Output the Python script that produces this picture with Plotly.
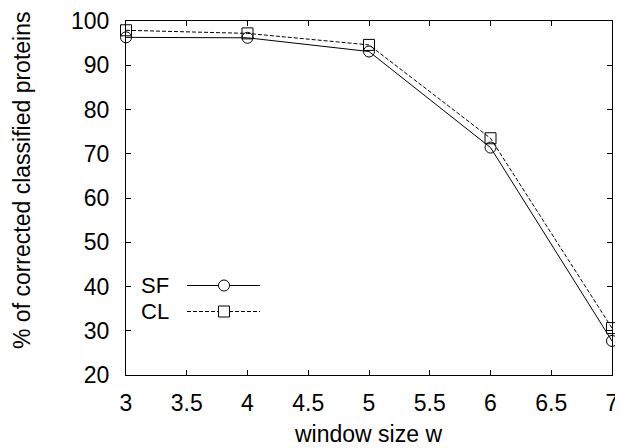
import plotly.graph_objects as go

window = [3, 4, 5, 6, 7]
sf = [96.3, 96.2, 93.1, 71.4, 27.7]
cl = [97.9, 97.2, 94.6, 73.5, 30.6]
x_ticks = [3, 3.5, 4, 4.5, 5, 5.5, 6, 6.5, 7]
y_ticks = [20, 30, 40, 50, 60, 70, 80, 90, 100]

FONT = "Liberation Sans, Arial, sans-serif"
OFF = 8  # default page body margin
W, H = 623 - OFF, 448 - OFF
PL, PR, PT, PB = 126, 612, 21, 375          # plot box in page pixels
ML, MT = PL - OFF, PT - OFF
MR, MB = W - ML - (PR - PL), H - MT - (PB - PT)
PW, PH = PR - PL, PB - PT

fig = go.Figure()
fig.add_trace(go.Scatter(x=window, y=sf, mode="lines+markers", name="SF",
                         line=dict(color="black", width=1),
                         marker=dict(symbol="circle-open", size=11, color="black", line=dict(width=1)),
                         showlegend=False, cliponaxis=False))
fig.add_trace(go.Scatter(x=window, y=cl, mode="lines+markers", name="CL",
                         line=dict(color="black", width=1, dash="4px,2px"),
                         marker=dict(symbol="square-open", size=11, color="black", line=dict(width=1)),
                         showlegend=False, cliponaxis=False))

def px2paper(px, py):
    return (px - PL) / PW, (PB - py) / PH

# manual legend (text left, sample right)
legend = [("SF", 285.5, "solid", "circle"), ("CL", 311.5, "4px,2px", "rect")]
for label, py, dash, shp in legend:
    xa, ya = px2paper(187, py)
    xb, _ = px2paper(260, py)
    xm, _ = px2paper(224, py)
    fig.add_shape(type="line", xref="paper", yref="paper", x0=xa, x1=xb, y0=ya, y1=ya,
                  line=dict(color="black", width=1, dash=dash))
    fig.add_shape(type=shp, xref="paper", yref="paper", xsizemode="pixel", ysizemode="pixel",
                  xanchor=xm, yanchor=ya, x0=-5.5, x1=5.5, y0=-5.5, y1=5.5,
                  line=dict(color="black", width=1), fillcolor="white")
    xt, _ = px2paper(139, py)
    fig.add_annotation(text=label, xref="paper", yref="paper", x=xt, y=ya,
                       xanchor="left", yanchor="middle", showarrow=False,
                       font=dict(family=FONT, size=22, color="black"))

# axis titles
xx, xy = px2paper(368, 434)
fig.add_annotation(text="window size w", xref="paper", yref="paper", x=xx, y=xy,
                   xanchor="center", yanchor="middle", showarrow=False,
                   font=dict(family=FONT, size=23, color="black"))
yx, yy = px2paper(22, 180)
fig.add_annotation(text="% of corrected classified proteins", xref="paper", yref="paper", x=yx, y=yy,
                   xanchor="center", yanchor="middle", showarrow=False, textangle=-90,
                   font=dict(family=FONT, size=23, color="black"))

axis_common = dict(showgrid=False, zeroline=False, showline=True, linecolor="black", linewidth=1,
                   mirror="ticks", ticks="inside", ticklen=5, tickcolor="black", tickwidth=1,
                   automargin=False,
                   tickfont=dict(family=FONT, size=23, color="black"))
fig.update_xaxes(range=[3, 7], tickvals=x_ticks, ticktext=[f"{v:g}" for v in x_ticks],
                 ticklabelstandoff=7, **axis_common)
fig.update_yaxes(range=[20, 100], tickvals=y_ticks, ticktext=[str(v) for v in y_ticks],
                 ticklabelstandoff=11, **axis_common)
fig.update_layout(width=W, height=H, margin=dict(l=ML, r=MR, t=MT, b=MB),
                  paper_bgcolor="white", plot_bgcolor="white", showlegend=False)
fig.write_html("out.html")
